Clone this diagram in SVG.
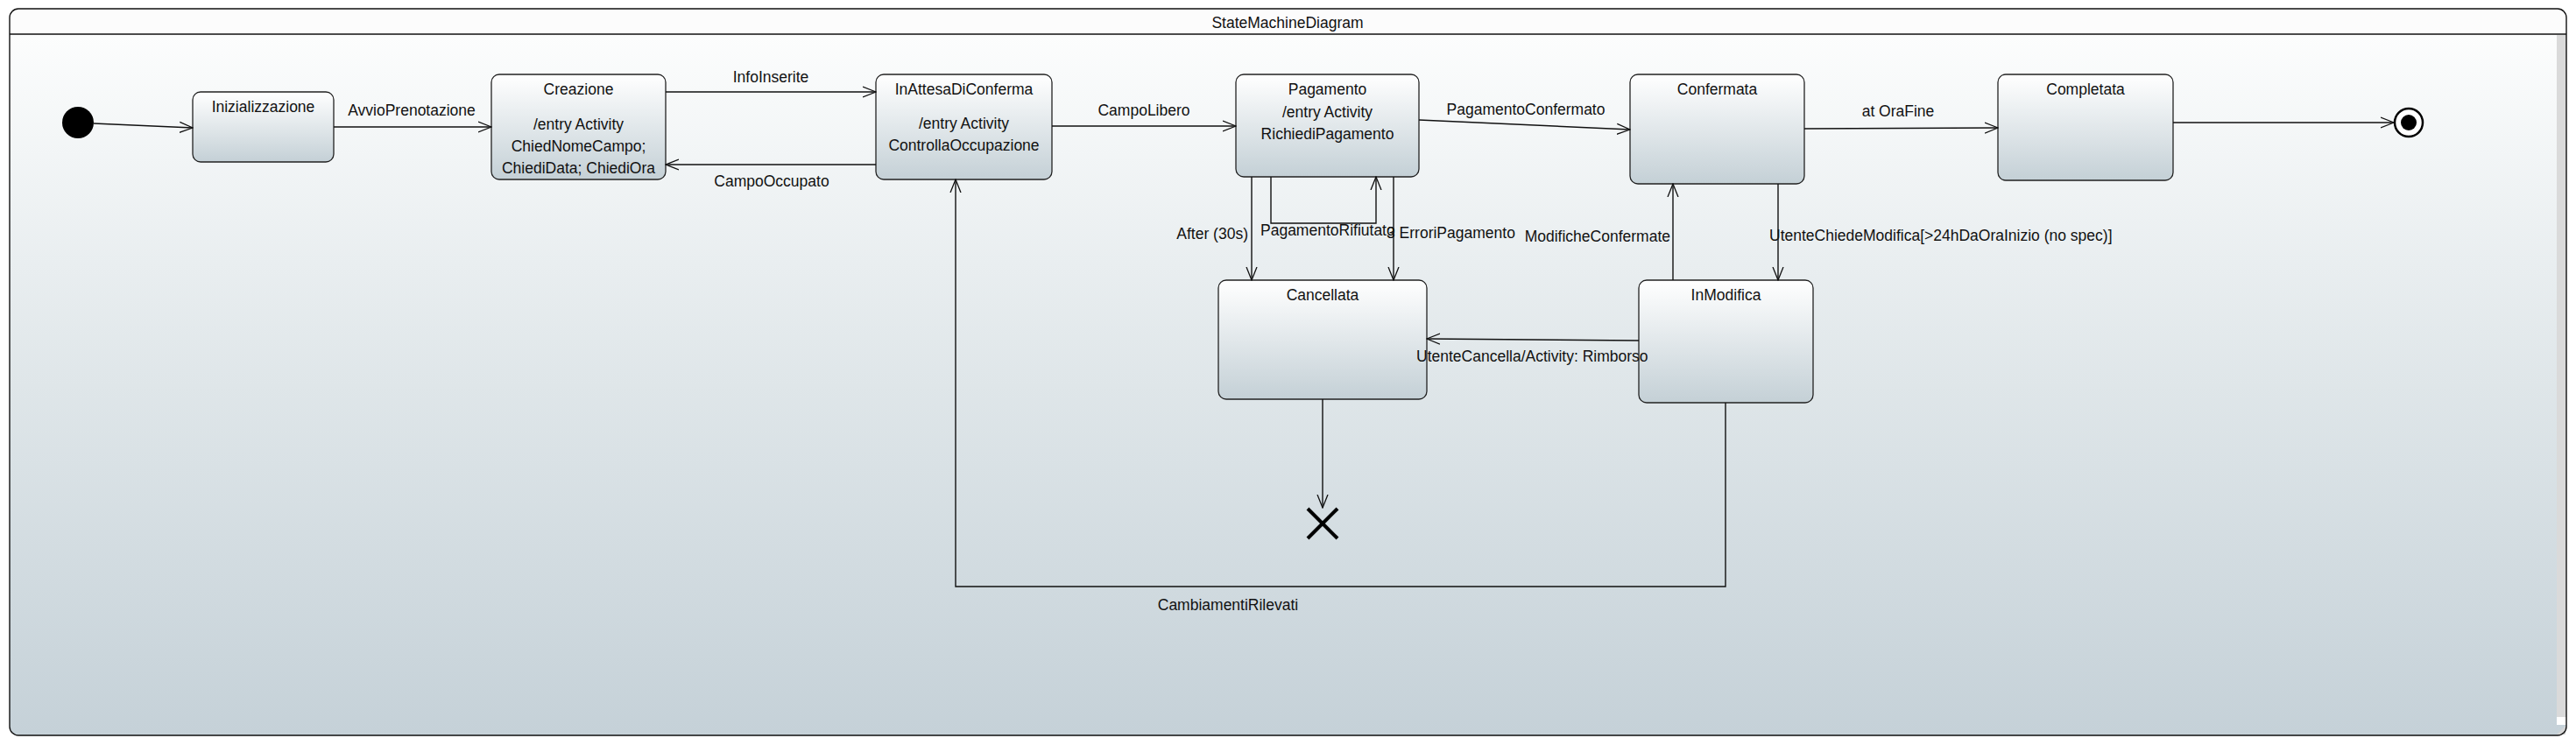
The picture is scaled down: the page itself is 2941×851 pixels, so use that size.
<svg xmlns="http://www.w3.org/2000/svg" width="2941" height="851" viewBox="0 0 2941 851">
<style>
text{font-family:"Liberation Sans",Arial,sans-serif;font-size:17.5px;fill:#111}
.c{text-anchor:middle}
.e{text-anchor:end}
.node{fill:url(#nodeGrad);stroke:#222;stroke-width:1.3}
.conn{fill:none;stroke:#111;stroke-width:1.4}
</style>
<defs>
<linearGradient id="bodyGrad" x1="0" y1="0" x2="0" y2="1">
<stop offset="0" stop-color="#fcfdfd"/>
<stop offset="0.5" stop-color="#dfe6e9"/>
<stop offset="1" stop-color="#c5d1d8"/>
</linearGradient>
<linearGradient id="nodeGrad" x1="0" y1="0" x2="0" y2="1">
<stop offset="0" stop-color="#ffffff"/>
<stop offset="1" stop-color="#c4d0d6"/>
</linearGradient>
<marker id="arr" viewBox="0 0 16 14" refX="15" refY="7" markerWidth="16" markerHeight="14" markerUnits="userSpaceOnUse" orient="auto">
<path d="M0,1 L15,7 L0,13" fill="none" stroke="#111" stroke-width="1.3"/>
</marker>
</defs>

<g id="frame">
<path d="M21,10 H2920 A10,10 0 0 1 2930,20 V39 H11 V20 A10,10 0 0 1 21,10 Z" fill="#fcfcfc"/>
<path d="M11,39 H2930 V830 A10,10 0 0 1 2920,840 H21 A10,10 0 0 1 11,830 Z" fill="url(#bodyGrad)"/>
<rect x="2919" y="40" width="11" height="779" fill="#dadada"/>
<rect x="2919" y="819" width="11" height="9" fill="#ffffff"/>
<path d="M2919,839 L2929,829 L2929,839 Z" fill="#d6d6d6"/>
<path d="M21,10 H2920 A10,10 0 0 1 2930,20 V830 A10,10 0 0 1 2920,840 H21 A10,10 0 0 1 11,830 V20 A10,10 0 0 1 21,10 Z" fill="none" stroke="#111" stroke-width="1.4"/>
<line x1="11" y1="39" x2="2930" y2="39" stroke="#111" stroke-width="1.4"/>
<text class="c" x="1470" y="32">StateMachineDiagram</text>
</g>

<g id="initial"><circle cx="89" cy="140" r="18" fill="#000"/></g>

<g id="Inizializzazione">
<rect class="node" x="220" y="105" width="161" height="80" rx="9"/>
<text class="c" x="300.5" y="128">Inizializzazione</text>
</g>

<g id="Creazione">
<rect class="node" x="561" y="85" width="199" height="120" rx="9"/>
<text class="c" x="660.5" y="108">Creazione</text>
<text class="c" x="660.5" y="148">/entry Activity</text>
<text class="c" x="660.5" y="173">ChiedNomeCampo;</text>
<text class="c" x="660.5" y="198">ChiediData; ChiediOra</text>
</g>

<g id="InAttesaDiConferma">
<rect class="node" x="1000" y="85" width="201" height="120" rx="9"/>
<text class="c" x="1100.5" y="108">InAttesaDiConferma</text>
<text class="c" x="1100.5" y="147">/entry Activity</text>
<text class="c" x="1100.5" y="172">ControllaOccupazione</text>
</g>

<g id="Pagamento">
<rect class="node" x="1411" y="85" width="209" height="117" rx="9"/>
<text class="c" x="1515.5" y="108">Pagamento</text>
<text class="c" x="1515.5" y="134">/entry Activity</text>
<text class="c" x="1515.5" y="159">RichiediPagamento</text>
</g>

<g id="Confermata">
<rect class="node" x="1861" y="85" width="199" height="125" rx="9"/>
<text class="c" x="1960.5" y="108">Confermata</text>
</g>

<g id="Completata">
<rect class="node" x="2281" y="85" width="200" height="121" rx="9"/>
<text class="c" x="2381" y="108">Completata</text>
</g>

<g id="Cancellata">
<rect class="node" x="1391" y="320" width="238" height="136" rx="9"/>
<text class="c" x="1510" y="343">Cancellata</text>
</g>

<g id="InModifica">
<rect class="node" x="1871" y="320" width="199" height="140" rx="9"/>
<text class="c" x="1970.5" y="343">InModifica</text>
</g>

<g id="final">
<circle cx="2750" cy="140" r="16" fill="#fff" stroke="#000" stroke-width="2.5"/>
<circle cx="2750" cy="140" r="9" fill="#000"/>
</g>

<g id="terminate">
<line x1="1493" y1="581" x2="1527" y2="615" stroke="#000" stroke-width="4"/>
<line x1="1527" y1="581" x2="1493" y2="615" stroke="#000" stroke-width="4"/>
</g>

<g id="connectors">
<line class="conn" x1="107" y1="141" x2="220" y2="146" marker-end="url(#arr)"/>
<line class="conn" x1="381" y1="145" x2="561" y2="145" marker-end="url(#arr)"/>
<text class="c" x="470" y="132">AvvioPrenotazione</text>
<line class="conn" x1="760" y1="105" x2="1000" y2="105" marker-end="url(#arr)"/>
<text class="c" x="880" y="94">InfoInserite</text>
<line class="conn" x1="1000" y1="188" x2="760" y2="188" marker-end="url(#arr)"/>
<text class="c" x="881" y="213">CampoOccupato</text>
<line class="conn" x1="1201" y1="144" x2="1411" y2="144" marker-end="url(#arr)"/>
<text class="c" x="1306" y="132">CampoLibero</text>
<line class="conn" x1="1620" y1="137" x2="1861" y2="148" marker-end="url(#arr)"/>
<text class="c" x="1742" y="131">PagamentoConfermato</text>
<line class="conn" x1="2060" y1="147" x2="2281" y2="146" marker-end="url(#arr)"/>
<text class="c" x="2167" y="133">at OraFine</text>
<line class="conn" x1="2481" y1="140" x2="2733" y2="140" marker-end="url(#arr)"/>
<line class="conn" x1="1429" y1="202" x2="1429" y2="320" marker-end="url(#arr)"/>
<text class="e" x="1425" y="273">After (30s)</text>
<polyline class="conn" points="1451,202 1451,255 1571,255 1571,202" marker-end="url(#arr)"/>
<text x="1439" y="269">PagamentoRifiutato</text>
<line class="conn" x1="1591" y1="202" x2="1591" y2="320" marker-end="url(#arr)"/>
<text x="1583" y="272">3 ErroriPagamento</text>
<line class="conn" x1="1910" y1="320" x2="1910" y2="210" marker-end="url(#arr)"/>
<text class="e" x="1907" y="276">ModificheConfermate</text>
<line class="conn" x1="2030" y1="210" x2="2030" y2="320" marker-end="url(#arr)"/>
<text x="2020" y="275">UtenteChiedeModifica[&gt;24hDaOraInizio (no spec)]</text>
<line class="conn" x1="1871" y1="389" x2="1629" y2="387" marker-end="url(#arr)"/>
<text x="1617" y="413">UtenteCancella/Activity: Rimborso</text>
<line class="conn" x1="1510" y1="456" x2="1510" y2="580" stroke-width="1" marker-end="url(#arr)"/>
<polyline class="conn" points="1970,460 1970,670 1091,670 1091,205" marker-end="url(#arr)"/>
<text class="c" x="1402" y="697">CambiamentiRilevati</text>
</g>
</svg>
